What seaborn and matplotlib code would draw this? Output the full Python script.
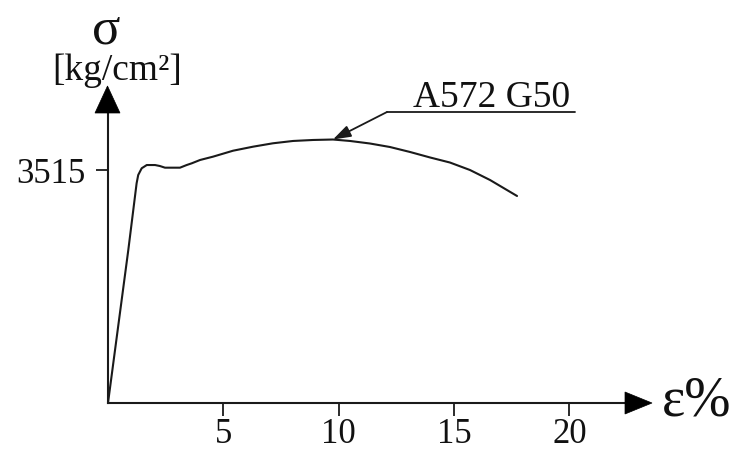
import matplotlib
matplotlib.use("Agg")
import matplotlib.pyplot as plt
from matplotlib.patches import Polygon
import seaborn as sns
import pandas as pd

# ---- data ----
strain = [0.0, 0.88, 1.24, 1.31, 1.46, 1.68, 2.04, 2.25, 2.47, 3.12, 3.41, 3.63,
          3.99, 4.55, 5.42, 6.29, 7.15, 8.02, 8.89, 9.75, 10.49, 11.35, 12.22,
          13.09, 13.96, 14.82, 15.69, 16.56, 17.73]
stress = [0, 2308, 3314, 3440, 3541, 3590, 3590, 3575, 3550, 3550, 3590, 3616,
          3666, 3716, 3806, 3867, 3918, 3953, 3968, 3975, 3953, 3915, 3862,
          3787, 3704, 3628, 3515, 3364, 3123]
x_ticks = [5, 10, 15, 20]
y_ticks = [3515]
series_label = "A572 G50"
peak_point = (9.75, 3975)

df = pd.DataFrame({"strain": strain, "stress": stress})

sns.set_theme(style="white")
plt.rcParams["font.family"] = ["Liberation Serif", "DejaVu Serif"]

W, H = 736, 450
fig = plt.figure(figsize=(W / 100, H / 100), dpi=100)


def fp(x, y):
    """pixel (from top-left) -> figure fraction"""
    return (x / W, 1 - y / H)


ax = fig.add_axes([108 / W, (H - 403) / H, (625 - 108) / W, (403 - 113) / H])
sns.lineplot(data=df, x="strain", y="stress", ax=ax, color="#1a1a1a",
             linewidth=1.5, sort=False, estimator=None)

ax.set_xlim(0, (625 - 108) / 23.07)
ax.set_ylim(0, (403 - 113) * 15.086)
ax.set_xticks(x_ticks)
ax.set_xticklabels([str(t) for t in x_ticks])
ax.set_yticks(y_ticks)
ax.set_yticklabels([str(t) for t in y_ticks])
ax.set_xlabel("")
ax.set_ylabel("")
for s in ["top", "right"]:
    ax.spines[s].set_visible(False)
for s in ["left", "bottom"]:
    ax.spines[s].set_color("#1a1a1a")
    ax.spines[s].set_linewidth(1.5)
ax.tick_params(axis="both", direction="out", length=9, width=1.3,
               color="#1a1a1a", labelsize=25, labelcolor="#111111")
ax.tick_params(axis="x", pad=2, bottom=True)
ax.tick_params(axis="y", pad=7, left=True)
ax.patch.set_alpha(0)

# arrow heads on the axes
fig.patches.append(Polygon([fp(107.5, 86), fp(95, 113), fp(120, 113)], closed=True,
                           transform=fig.transFigure, facecolor="black",
                           edgecolor="black", lw=0.5))
fig.patches.append(Polygon([fp(652, 403), fp(625, 392), fp(625, 414)], closed=True,
                           transform=fig.transFigure, facecolor="black",
                           edgecolor="black", lw=0.5))

# axis titles
fig.text(*fp(106, 43), "σ", fontsize=38, ha="center", va="baseline", color="#111111")
fig.text(*fp(117.5, 80), "[kg/cm²]", fontsize=27, ha="center", va="baseline",
         color="#111111")
fig.text(*fp(662, 415), "ε%", fontsize=40, ha="left", va="baseline", color="#111111")

# series label with leader line
fig.text(*fp(413, 107), series_label, fontsize=27, ha="left", va="baseline",
         color="#111111")
fig.add_artist(plt.Line2D([387 / W, 575 / W], [1 - 112 / H, 1 - 112 / H],
                          transform=fig.transFigure, color="#1a1a1a", lw=1.3))
ax.annotate("", xy=peak_point, xycoords="data",
            xytext=fp(387, 112), textcoords="figure fraction",
            arrowprops=dict(arrowstyle="-|>,head_length=0.9,head_width=0.3",
                            color="#1a1a1a", lw=1.3, shrinkA=0, shrinkB=0))

fig.savefig("out.png", dpi=100)
